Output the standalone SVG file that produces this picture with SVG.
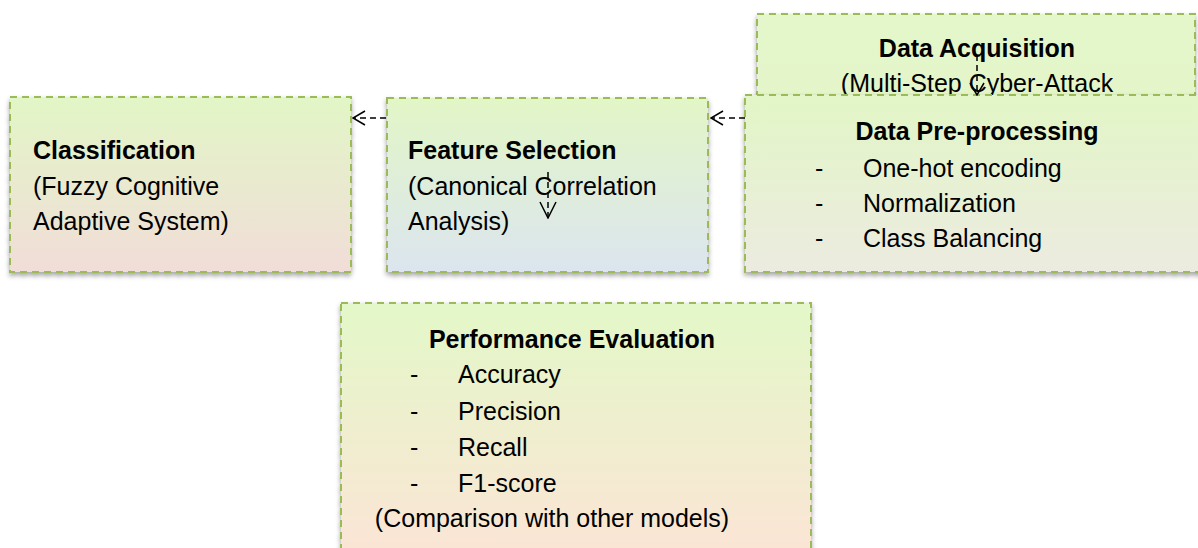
<svg xmlns="http://www.w3.org/2000/svg" width="1198" height="548" viewBox="0 0 1198 548">
<defs>
<linearGradient id="gClass" x1="0" y1="0" x2="0" y2="1"><stop offset="0" stop-color="#e2f6c6"/><stop offset="1" stop-color="#f1ddd8"/></linearGradient>
<linearGradient id="gFeat" x1="0" y1="0" x2="0" y2="1"><stop offset="0" stop-color="#e2f6c6"/><stop offset="1" stop-color="#dce5ef"/></linearGradient>
<linearGradient id="gPre" x1="0" y1="0" x2="0" y2="1"><stop offset="0" stop-color="#e2f6c6"/><stop offset="1" stop-color="#ecebe0"/></linearGradient>
<linearGradient id="gAcq" x1="0" y1="0" x2="0" y2="1"><stop offset="0" stop-color="#e4f7ca"/><stop offset="1" stop-color="#e3f5c9"/></linearGradient>
<linearGradient id="gPerf" x1="0" y1="0" x2="0" y2="1"><stop offset="0" stop-color="#e3f8c8"/><stop offset="1" stop-color="#fce4d6"/></linearGradient>
<filter id="sh" x="-5%" y="-5%" width="110%" height="120%"><feDropShadow dx="0" dy="3" stdDeviation="2.5" flood-color="#000" flood-opacity="0.35"/></filter>
<marker id="open" viewBox="0 0 14 16" refX="13" refY="8" markerWidth="14" markerHeight="16" markerUnits="userSpaceOnUse" orient="auto"><path d="M1,1 L13,8 L1,15" fill="none" stroke="#000" stroke-width="1.5"/></marker>
<marker id="openV" viewBox="0 0 18 18" refX="17" refY="9" markerWidth="18" markerHeight="18" markerUnits="userSpaceOnUse" orient="auto"><path d="M1,1 L17,9 L1,17" fill="none" stroke="#000" stroke-width="1.5"/></marker>
</defs>
<style>
.box{stroke:#9bbb59;stroke-width:2;stroke-dasharray:7 5;}
.t{font-family:"Liberation Sans",Arial,sans-serif;font-size:25px;fill:#000;}
.b{font-weight:bold;}
.m{text-anchor:middle;}
.conn{fill:none;stroke:#000;stroke-width:1.5;stroke-dasharray:6 4;}
</style>
<rect width="1198" height="548" fill="#fff"/>
<g id="data-acquisition">
<rect class="box" x="757" y="14" width="438" height="90" fill="url(#gAcq)" filter="url(#sh)"/>
<text class="t b m" x="977" y="57">Data Acquisition</text>
<text class="t m" x="977" y="92">(Multi-Step Cyber-Attack</text>
</g>
<g id="data-preprocessing">
<rect class="box" x="745" y="95" width="470" height="177" fill="url(#gPre)" filter="url(#sh)"/>
<text class="t b m" x="977" y="140">Data Pre-processing</text>
<text class="t" x="815" y="177">-</text><text class="t" x="863" y="177">One-hot encoding</text>
<text class="t" x="815" y="212">-</text><text class="t" x="863" y="212">Normalization</text>
<text class="t" x="815" y="247">-</text><text class="t" x="863" y="247">Class Balancing</text>
</g>
<g id="feature-selection">
<rect class="box" x="387" y="98" width="321" height="174" fill="url(#gFeat)" filter="url(#sh)"/>
<text class="t b" x="408" y="159">Feature Selection</text>
<text class="t" x="408" y="195">(Canonical Correlation</text>
<text class="t" x="408" y="230">Analysis)</text>
</g>
<g id="classification">
<rect class="box" x="10" y="97" width="341" height="175" fill="url(#gClass)" filter="url(#sh)"/>
<text class="t b" x="33" y="159">Classification</text>
<text class="t" x="33" y="195">(Fuzzy Cognitive</text>
<text class="t" x="33" y="230">Adaptive System)</text>
</g>
<g id="performance-evaluation">
<rect class="box" x="341" y="303" width="470" height="260" fill="url(#gPerf)" filter="url(#sh)"/>
<text class="t b m" x="572" y="348">Performance Evaluation</text>
<text class="t" x="410" y="383">-</text><text class="t" x="458" y="383">Accuracy</text>
<text class="t" x="410" y="420">-</text><text class="t" x="458" y="420">Precision</text>
<text class="t" x="410" y="456">-</text><text class="t" x="458" y="456">Recall</text>
<text class="t" x="410" y="492">-</text><text class="t" x="458" y="492">F1-score</text>
<text class="t m" x="552" y="527">(Comparison with other models)</text>
</g>
<g id="connectors">
<line class="conn" x1="745" y1="118" x2="711" y2="118" marker-end="url(#open)"/>
<line class="conn" x1="386" y1="118" x2="353" y2="118" marker-end="url(#open)"/>
<line class="conn" x1="977" y1="55" x2="977" y2="95" marker-end="url(#open)"/>
<line class="conn" x1="548" y1="172" x2="548" y2="218" marker-end="url(#openV)"/>
</g>
</svg>
